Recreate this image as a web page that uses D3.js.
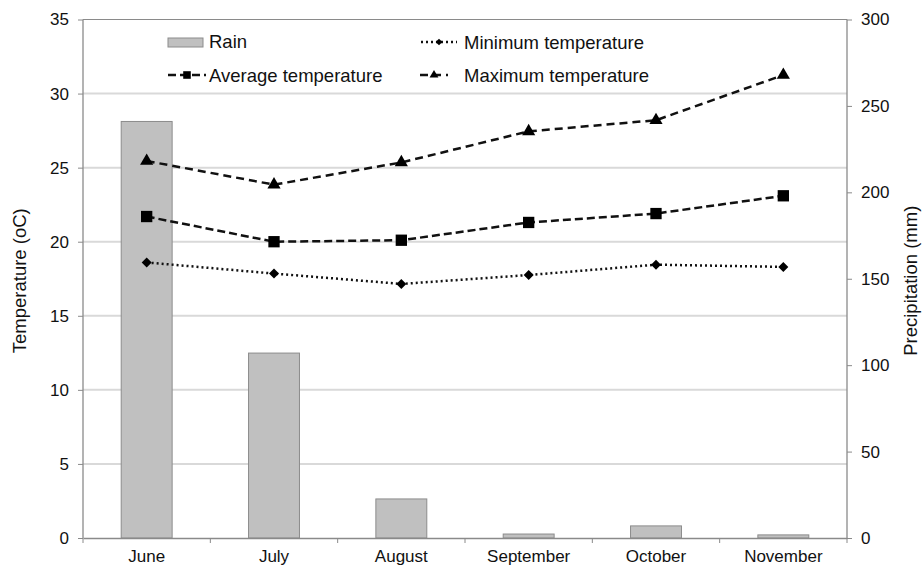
<!DOCTYPE html>
<html>
<head>
<meta charset="utf-8">
<script src="https://cdn.jsdelivr.net/npm/d3@7"></script>
<style>
  body { margin: 0; background: #fff; }
  text { font-family: "Liberation Sans", Arial, sans-serif; fill: #111; }
</style>
</head>
<body>
<script>
(function(){

    var months = ["June", "July", "August", "September", "October", "November"];
    var rain = [241, 107, 22.6, 2.3, 7, 1.8];
    var minTemp = [18.6, 17.85, 17.15, 17.75, 18.45, 18.3];
    var avgTemp = [21.7, 20.0, 20.1, 21.3, 21.9, 23.1];
    var maxTemp = [25.45, 23.85, 25.35, 27.45, 28.2, 31.25];
    var tempTicks = [0, 5, 10, 15, 20, 25, 30, 35];
    var rainTicks = [0, 50, 100, 150, 200, 250, 300];

    var width = 922, height = 567;
    var margin = {top: 19.5, right: 75, bottom: 29, left: 83};

    var svg = d3.select("body")
        .append("svg")
        .attr("width", width)
        .attr("height", height);

    var x = d3.scaleBand()
        .domain(months)
        .range([margin.left, width - margin.right])
        .paddingInner(0.6)
        .paddingOuter(0.3);

    var xGroup = d3.scaleBand()
        .domain(months)
        .range([margin.left, width - margin.right]);

    var yTemp = d3.scaleLinear()
        .domain([0, 35])
        .range([height - margin.bottom, margin.top]);

    var yRain = d3.scaleLinear()
        .domain([0, 300])
        .range([height - margin.bottom, margin.top]);

    // gridlines
    svg.append("g")
        .selectAll("line")
        .data(tempTicks.slice(1))
        .enter()
        .append("line")
        .attr("x1", margin.left)
        .attr("x2", width - margin.right)
        .attr("y1", d => yTemp(d))
        .attr("y2", d => yTemp(d))
        .style("stroke", d => d === 35 ? "#8a8a8a" : "#d9d9d9")
        .style("stroke-width", d => d === 35 ? 1 : 2);

    // rain bars
    svg.append("g")
        .selectAll("rect")
        .data(rain)
        .enter()
        .append("rect")
        .attr("x", (d, i) => x(months[i]))
        .attr("width", x.bandwidth())
        .attr("y", d => yRain(d))
        .attr("height", d => yRain(0) - yRain(d))
        .style("fill", "#c0c0c0")
        .style("stroke", "#8c8c8c")
        .style("stroke-width", 1);

    // axes
    var leftAxis = svg.append("g")
        .attr("transform", `translate(${margin.left},0)`)
        .call(d3.axisLeft(yTemp).tickValues(tempTicks).tickSize(5).tickPadding(9));

    var rightAxis = svg.append("g")
        .attr("transform", `translate(${width - margin.right},0)`)
        .call(d3.axisRight(yRain).tickValues(rainTicks).tickSize(5).tickPadding(9));

    var bottomAxis = svg.append("g")
        .attr("transform", `translate(0,${height - margin.bottom})`)
        .call(d3.axisBottom(xGroup).tickSize(0).tickPadding(12));

    // bottom ticks between categories
    bottomAxis.selectAll(".sep")
        .data(months.map((m, i) => i).concat([months.length]))
        .enter()
        .append("line")
        .attr("x1", i => margin.left + i * xGroup.step())
        .attr("x2", i => margin.left + i * xGroup.step())
        .attr("y1", 0)
        .attr("y2", 5)
        .style("stroke", "#8a8a8a");

    [leftAxis, rightAxis, bottomAxis].forEach(function(a){
        a.selectAll("path").style("stroke", "#8a8a8a").style("stroke-width", 1.3);
        a.selectAll(".tick line").style("stroke", "#8a8a8a");
        a.selectAll("text")
            .style("font-family", "Liberation Sans, Arial, sans-serif")
            .style("font-size", "17px")
            .style("fill", "#111");
    });
    leftAxis.select(".domain").attr("d", `M0,${yTemp(0)}V${yTemp(35)}`);
    rightAxis.select(".domain").attr("d", `M0,${yRain(0)}V${yRain(300)}`);

    // axis titles
    svg.append("text")
        .attr("transform", `translate(26,${(margin.top + height - margin.bottom) / 2 + 2}) rotate(-90)`)
        .attr("text-anchor", "middle")
        .style("font-size", "18.5px")
        .text("Temperature (oC)");

    svg.append("text")
        .attr("transform", `translate(917,${(margin.top + height - margin.bottom) / 2 + 2}) rotate(-90)`)
        .attr("text-anchor", "middle")
        .style("font-size", "18.5px")
        .text("Precipitation (mm)");

    var cx = d => xGroup(d) + xGroup.bandwidth() / 2;

    var series = [
        {name: "Minimum temperature", values: minTemp, dash: "2,3", shape: d3.symbolSquare, rot: 45, size: 50},
        {name: "Average temperature", values: avgTemp, dash: "8,4", shape: d3.symbolSquare, rot: 0, size: 128},
        {name: "Maximum temperature", values: maxTemp, dash: "8,5", shape: d3.symbolTriangle, rot: 0, size: 75}
    ];

    var line = d3.line()
        .x((d, i) => cx(months[i]))
        .y(d => yTemp(d));

    series.forEach(function(s){
        svg.append("path")
            .datum(s.values)
            .attr("d", line)
            .style("fill", "none")
            .style("stroke", "#111")
            .style("stroke-width", 2.5)
            .style("stroke-dasharray", s.dash);

        svg.append("g")
            .selectAll("path")
            .data(s.values)
            .enter()
            .append("path")
            .attr("d", d3.symbol().type(s.shape).size(s.size))
            .attr("transform", (d, i) => `translate(${cx(months[i])},${yTemp(d)}) rotate(${s.rot})`)
            .style("fill", "#000");
    });

    // legend
    var legend = svg.append("g").attr("class", "legend");

    legend.append("rect")
        .attr("x", 168).attr("y", 38).attr("width", 35).attr("height", 9)
        .style("fill", "#c0c0c0").style("stroke", "#8c8c8c");
    legend.append("text").attr("x", 209).attr("y", 48).style("font-size", "18.5px").text("Rain");

    var legendItems = [
        {s: series[1], x: 168, y: 75, len: 38, tx: 209},
        {s: series[0], x: 421, y: 42, len: 36, tx: 464},
        {s: series[2], x: 420, y: 75, len: 28, tx: 464}
    ];

    legendItems.forEach(function(l){
        legend.append("line")
            .attr("x1", l.x).attr("x2", l.x + l.len)
            .attr("y1", l.y).attr("y2", l.y)
            .style("stroke", "#111")
            .style("stroke-width", 2.5)
            .style("stroke-dasharray", l.s.dash);
        legend.append("path")
            .attr("d", d3.symbol().type(l.s.shape).size(l.s.size * 0.45))
            .attr("transform", `translate(${l.x + l.len / 2},${l.y}) rotate(${l.s.rot})`)
            .style("fill", "#000");
        legend.append("text")
            .attr("x", l.tx).attr("y", l.y + 6.5)
            .style("font-size", "18.5px")
            .text(l.s.name);
    });

})();
</script>
</body>
</html>
